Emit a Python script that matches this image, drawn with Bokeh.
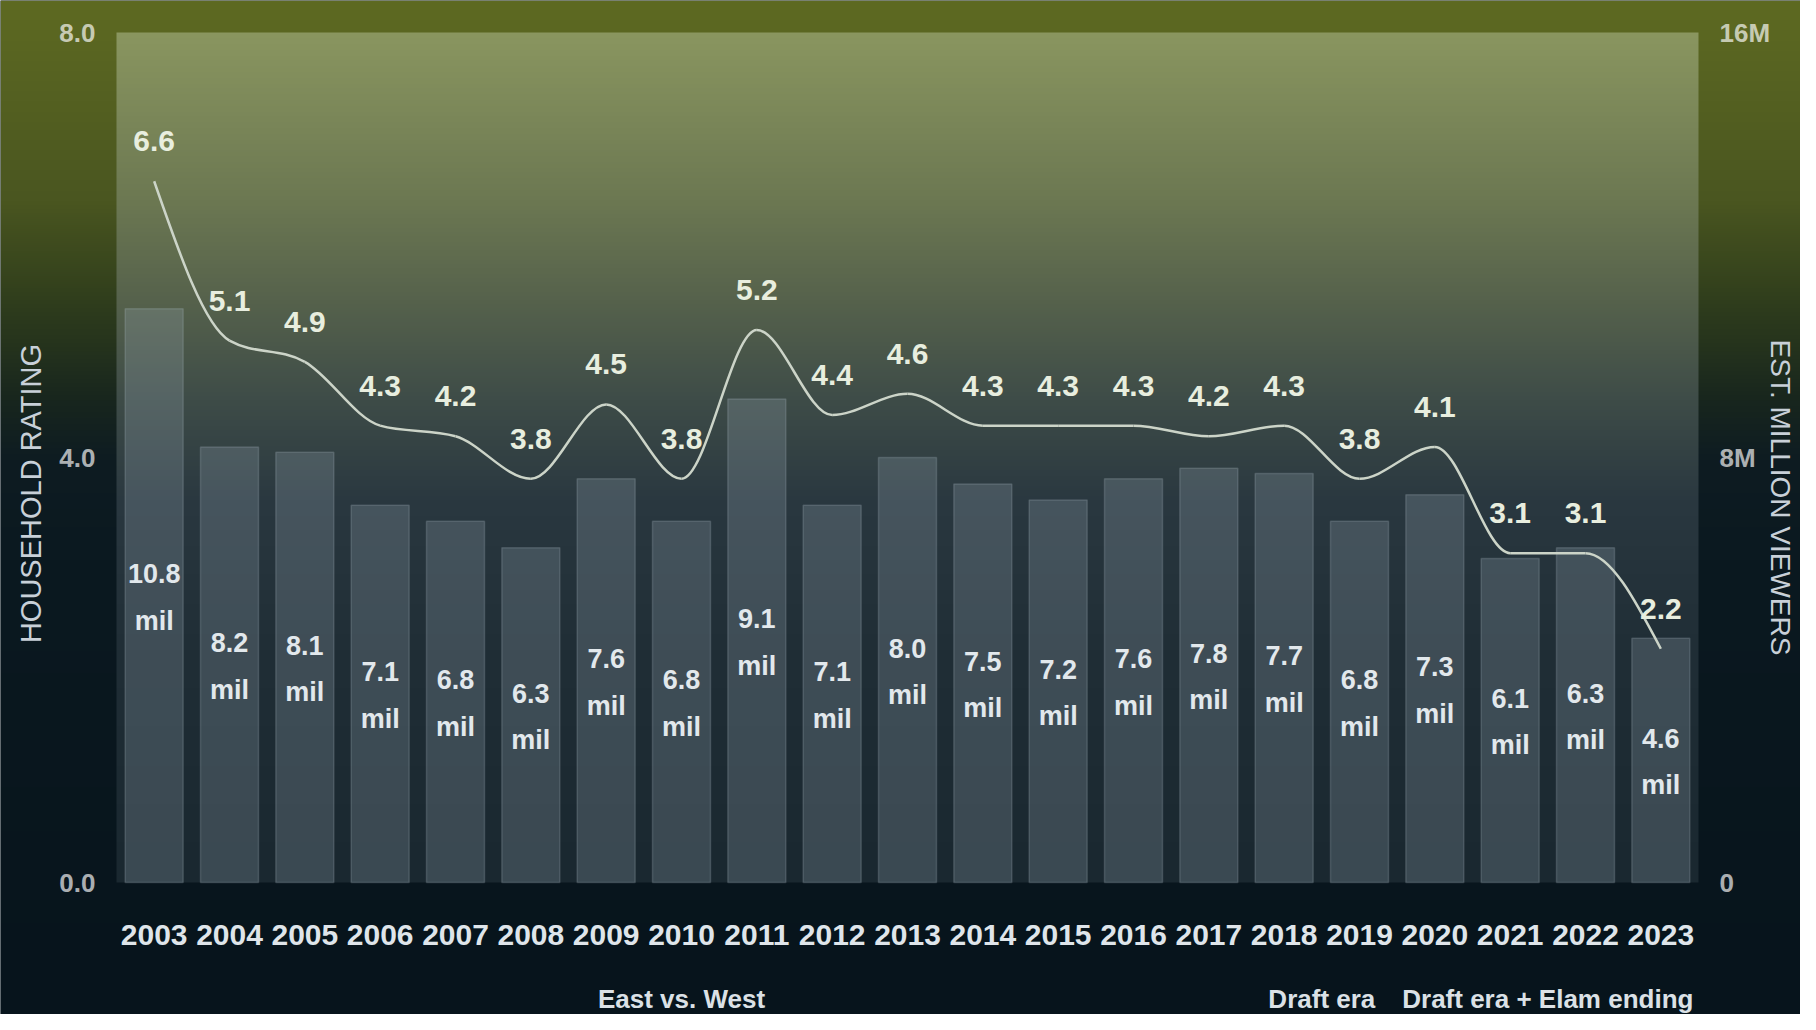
import numpy as np
from bokeh.plotting import figure
from bokeh.models import Range1d, LinearAxis, FixedTicker, ColumnDataSource
from bokeh.core.properties import value
from bokeh.embed import file_html
from bokeh.resources import INLINE

# ---------------- data ----------------
years = list(range(2003, 2024))
ratings = [6.6, 5.1, 4.9, 4.3, 4.2, 3.8, 4.5, 3.8, 5.2, 4.4, 4.6,
           4.3, 4.3, 4.3, 4.2, 4.3, 3.8, 4.1, 3.1, 3.1, 2.2]
viewers = [10.8, 8.2, 8.1, 7.1, 6.8, 6.3, 7.6, 6.8, 9.1, 7.1, 8.0,
           7.5, 7.2, 7.6, 7.8, 7.7, 6.8, 7.3, 6.1, 6.3, 4.6]
rating_ticks = [0, 4, 8]
rating_tick_labels = ["0.0", "4.0", "8.0"]
viewer_ticks = [0, 8, 16]
viewer_tick_labels = ["0", "8M", "16M"]
eras = ["East vs. West", "Draft era", "Draft era + Elam ending"]
era_centers = [2010, 2018.5, 2021.5]
left_title = "HOUSEHOLD RATING"
right_title = "EST. MILLION VIEWERS"

# ---------------- geometry ----------------
W, H = 1800, 1014
FL, FR, FT, FB = 116, 1698, 32, 882          # plot-area box in canvas pixels
n_years = len(years)
x_lo, x_hi = years[0] - 0.5, years[-1] + 0.5
y_lo, y_hi = rating_ticks[0], rating_ticks[-1]
ppx = (FR - FL) / (x_hi - x_lo)
ppy = (FB - FT) / (y_hi - y_lo)
x_start = x_lo - FL / ppx
x_end = x_hi + (W - FR) / ppx
y_end = y_hi + FT / ppy
y_start = y_lo - (H - FB) / ppy
vscale = viewer_ticks[-1] / rating_ticks[-1]


def cx(px):
    return x_start + px / ppx


def cy(py):
    return y_end - py / ppy


p = figure(width=W, height=H, title=None,
           x_range=Range1d(x_start, x_end), y_range=Range1d(y_start, y_end),
           x_axis_location=None, y_axis_location=None,
           min_border=0, toolbar_location=None, output_backend="svg")
p.extra_y_ranges = {"viewers": Range1d(y_start * vscale, y_end * vscale)}
p.outline_line_color = None
p.background_fill_color = "#08161e"
p.border_fill_color = "#08161e"
p.grid.visible = False


# ---------------- gradients ----------------
def hex_rgb(h):
    return [int(h[i:i + 2], 16) for i in (1, 3, 5)]


def gradient(stops, n):
    fr = np.linspace(0, 1, n)
    pos = [s for s, _ in stops]
    cols = np.array([hex_rgb(c) for _, c in stops], float)
    arr = np.zeros((n, 2, 4), dtype=np.uint8)
    for k in range(3):
        arr[:, :, k] = np.interp(fr, pos, cols[:, k])[:, None]
    arr[:, :, 3] = 255
    arr = np.ascontiguousarray(arr[::-1])
    return arr.view(np.uint32).reshape(n, 2)


outer_stops = [(0.0, "#5e6a22"), (200 / H, "#4a5620"), (300 / H, "#303e1c"),
               (400 / H, "#18261e"), (460 / H, "#0e1c22"), (560 / H, "#0b1920"),
               (1.0, "#07141c")]
inner_stops = [(0.0, "#8a9660"), (0.198, "#6c7852"), (0.315, "#56624c"),
               (0.433, "#3e4c48"), (0.551, "#2a3840"), (0.727, "#202e36"),
               (1.0, "#1a2830")]

p.image_rgba(image=[gradient(outer_stops, 500)], x=x_start, y=y_start,
             dw=x_end - x_start, dh=y_end - y_start)
p.image_rgba(image=[gradient(inner_stops, 425)], x=x_lo, y=y_lo,
             dw=x_hi - x_lo, dh=y_hi - y_lo)

# ---------------- bars ----------------
src = ColumnDataSource(dict(
    year=years, viewers=viewers, mid=[v / 2 for v in viewers],
    vlab=[f"{v:.1f}" for v in viewers], mil=["mil"] * n_years,
    rating=ratings, rlab=[f"{r:.1f}" for r in ratings]))

p.vbar(x="year", top="viewers", bottom=0, width=0.77, source=src,
       y_range_name="viewers", fill_color="#9aaab6", fill_alpha=0.25,
       line_color="#b0bec8", line_alpha=0.22, line_width=1.5)

FONT = value("Liberation Sans")
p.text(x="year", y="mid", text="vlab", source=src, y_range_name="viewers",
       text_font=FONT, text_font_style="bold", text_font_size="27px",
       text_color="#e2e8ec", text_align="center", text_baseline="middle",
       y_offset=-22)
p.text(x="year", y="mid", text="mil", source=src, y_range_name="viewers",
       text_font=FONT, text_font_style="bold", text_font_size="27px",
       text_color="#e2e8ec", text_align="center", text_baseline="middle",
       y_offset=25)

# ---------------- rating line (monotone cubic through the points) ----------------
xs = np.array(years, float)
ys = np.array(ratings, float)
hh = np.diff(xs)
sl = np.diff(ys) / hh
tg = np.zeros(len(xs))
for i in range(1, len(xs) - 1):
    s0, s1 = sl[i - 1], sl[i]
    pp = (s0 * hh[i] + s1 * hh[i - 1]) / (hh[i - 1] + hh[i])
    tg[i] = (np.sign(s0) + np.sign(s1)) * min(abs(s0), abs(s1), 0.5 * abs(pp))
tg[0] = (3 * sl[0] - tg[1]) / 2
tg[-1] = (3 * sl[-1] - tg[-2]) / 2
p.bezier(x0=xs[:-1], y0=ys[:-1], x1=xs[1:], y1=ys[1:],
         cx0=xs[:-1] + hh / 3, cy0=ys[:-1] + tg[:-1] * hh / 3,
         cx1=xs[1:] - hh / 3, cy1=ys[1:] - tg[1:] * hh / 3,
         line_color="#ccd4c8", line_width=2.5)

p.text(x="year", y="rating", text="rlab", source=src,
       text_font=FONT, text_font_style="bold", text_font_size="30px",
       text_color="#e8eedf", text_align="center", text_baseline="middle",
       y_offset=-40)

# ---------------- era labels ----------------
p.text(x=era_centers, y=[cy(983)] * len(eras), text=eras,
       text_font=FONT, text_font_style="bold", text_font_size="26px",
       text_color="#dbe1e6", text_align="center", text_baseline="top")

# ---------------- axis titles ----------------
p.text(x=[cx(30)], y=[cy(493)], text=[left_title], angle=np.pi / 2,
       text_font=FONT, text_font_size="29px", text_color="#c8d0d8",
       text_align="center", text_baseline="middle")
p.text(x=[cx(1780)], y=[cy(497)], text=[right_title], angle=-np.pi / 2,
       text_font=FONT, text_font_size="28px", text_color="#c8d0d8",
       text_align="center", text_baseline="middle")

# ---------------- axes ----------------
xaxis = LinearAxis(fixed_location=0, ticker=FixedTicker(ticks=years))
xaxis.major_label_overrides = {y: str(y) for y in years}
xaxis.axis_line_color = None
xaxis.major_tick_line_color = None
xaxis.minor_tick_line_color = None
xaxis.major_tick_out = 0
xaxis.major_label_standoff = 42
xaxis.major_label_text_font = "Liberation Sans"
xaxis.major_label_text_font_style = "bold"
xaxis.major_label_text_font_size = "30px"
xaxis.major_label_text_color = "#dfe5ea"
p.add_layout(xaxis, "below")

laxis = LinearAxis(fixed_location=x_lo, ticker=FixedTicker(ticks=rating_ticks))
laxis.major_label_overrides = dict(zip(rating_ticks, rating_tick_labels))
raxis = LinearAxis(fixed_location=x_hi, y_range_name="viewers",
                   ticker=FixedTicker(ticks=viewer_ticks))
raxis.major_label_overrides = dict(zip(viewer_ticks, viewer_tick_labels))
for ax in (laxis, raxis):
    ax.axis_line_color = None
    ax.major_tick_line_color = None
    ax.minor_tick_line_color = None
    ax.major_tick_out = 0
    ax.major_label_standoff = 21
    ax.major_label_text_font = "Liberation Sans"
    ax.major_label_text_font_style = "bold"
    ax.major_label_text_font_size = "26px"
    ax.major_label_text_color = "#ffffff"
    ax.major_label_text_alpha = 0.68
p.add_layout(laxis, "left")
p.add_layout(raxis, "right")

open("out.html", "w").write(file_html(p, INLINE))
